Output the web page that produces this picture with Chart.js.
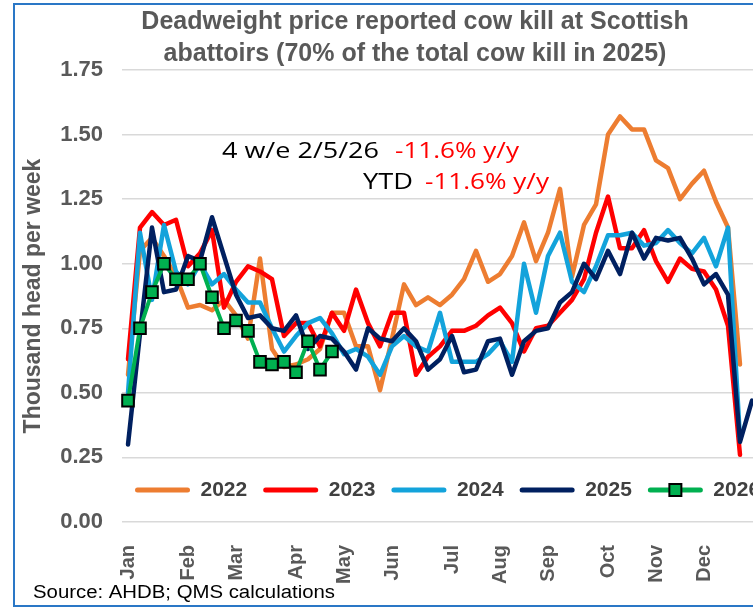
<!DOCTYPE html>
<html><head><meta charset="utf-8">
<script src="https://cdn.jsdelivr.net/npm/chart.js@4.4.1/dist/chart.umd.min.js"></script>
<style>
html,body{margin:0;padding:0;background:#fff;overflow:hidden;width:753px;height:609px;}
#wrap{position:absolute;left:0;top:0;width:830px;height:609px;}
#frame{position:absolute;left:13px;top:3px;width:900px;height:604px;border:2px solid #2a77c6;box-sizing:border-box;pointer-events:none;}
</style></head><body>
<div id="wrap"><canvas id="c" width="830" height="609"></canvas></div>
<div id="frame"></div>
<script>
// ---------- data ----------
const weeks = [1,2,3,4,5,6,7,8,9,10,11,12,13,14,15,16,17,18,19,20,21,22,23,24,25,26,27,28,29,30,31,32,33,34,35,36,37,38,39,40,41,42,43,44,45,46,47,48,49,50,51,52,53];
const monthNames = ['Jan','Feb','Mar','Apr','May','Jun','Jul','Aug','Sep','Oct','Nov','Dec'];
const monthStartWeeks = [1,6,10,15,19,23,28,32,36,41,45,49];
const seriesNames = ['2022','2023','2024','2025','2026'];
const kill2022 = [0.57,1.05,1.10,1.03,0.95,0.83,0.84,0.82,0.86,0.80,0.71,1.02,0.67,0.60,0.61,0.63,0.67,0.81,0.81,0.68,0.68,0.51,0.71,0.92,0.84,0.87,0.84,0.88,0.94,1.05,0.93,0.96,1.03,1.16,1.01,1.12,1.29,0.95,1.15,1.23,1.50,1.57,1.52,1.52,1.40,1.37,1.25,1.31,1.36,1.24,1.14,0.61];
const kill2023 = [0.63,1.14,1.20,1.15,1.17,0.99,1.04,1.13,0.83,0.93,0.99,0.97,0.94,0.72,0.77,0.77,0.68,0.81,0.74,0.90,0.77,0.68,0.81,0.81,0.57,0.64,0.68,0.74,0.74,0.76,0.80,0.83,0.77,0.66,0.75,0.76,0.81,0.86,0.94,1.12,1.26,1.06,1.06,1.13,1.01,0.93,1.02,0.98,0.97,0.90,0.76,0.26];
const kill2024 = [0.50,1.12,0.86,1.15,0.97,0.92,1.00,0.92,0.96,0.90,0.85,0.85,0.75,0.66,0.72,0.77,0.79,0.73,0.65,0.67,0.64,0.57,0.68,0.72,0.68,0.66,0.81,0.62,0.62,0.62,0.65,0.70,0.62,1.00,0.81,1.03,1.12,0.93,0.89,0.99,1.11,1.11,1.12,1.07,1.08,1.13,1.08,1.04,1.10,0.99,1.14,0.32];
const kill2025 = [0.30,0.73,1.14,0.89,0.90,1.03,1.01,1.18,1.03,0.88,0.79,0.80,0.75,0.74,0.80,0.67,0.72,0.71,0.66,0.59,0.75,0.71,0.70,0.75,0.70,0.59,0.63,0.72,0.58,0.59,0.70,0.71,0.57,0.70,0.74,0.75,0.85,0.89,1.00,0.94,1.05,0.96,1.12,1.02,1.10,1.09,1.10,1.02,0.92,0.96,0.88,0.31,0.47];
const kill2026 = [0.47,0.75,0.89,1.00,0.94,0.94,1.00,0.87,0.75,0.78,0.74,0.62,0.61,0.62,0.58,0.70,0.59,0.66];
const titleLines = ['Deadweight price reported cow kill at Scottish','abattoirs (70% of the total cow kill in 2025)'];
const yAxisTitle = 'Thousand head per week';
const annotationLines = [['4 w/e 2/5/26','-11.6% y/y'],['YTD','-11.6% y/y']];
const sourceNote = 'Source: AHDB; QMS calculations';

// ---------- helpers ----------
const weekLabels = weeks.map(w => { const i = monthStartWeeks.indexOf(w); return i >= 0 ? monthNames[i] : ''; });
const mctx = document.createElement('canvas').getContext('2d');
mctx.font = 'bold 100px "Liberation Sans"';
let titleSize = 565 / mctx.measureText(titleLines[0]).width * 100;
titleSize = Math.max(19, Math.min(25, titleSize));

const colors = ['#ED7D31','#FF0000','#13A3DB','#002060','#00B050'];
const values = [kill2022, kill2023, kill2024, kill2025, kill2026];
const datasets = seriesNames.map((name, i) => ({
  label: name,
  data: values[i],
  borderColor: colors[i],
  backgroundColor: colors[i],
  borderWidth: 4.5,
  tension: 0,
  borderJoinStyle: 'round',
  borderCapStyle: 'round',
  pointRadius: 0,
  order: 4 - i
}));
Object.assign(datasets[4], {
  borderWidth: 4,
  pointStyle: 'rect',
  pointRadius: 8.2,
  pointBackgroundColor: '#00B050',
  pointBorderColor: '#000000',
  pointBorderWidth: 2
});

const axisFont = '"Liberation Sans"';

function fitText(ctx, text, x, y, targetW) {
  const w = ctx.measureText(text).width;
  const s = targetW / w;
  ctx.save();
  ctx.translate(x, y);
  ctx.scale(s, 1);
  ctx.fillText(text, 0, 0);
  ctx.restore();
}

const placeLegend = {
  id: 'placeLegend',
  afterLayout(chart) {
    const lg = chart.legend;
    if (!lg) return;
    lg.left = 119; lg.right = 1000;
    lg.top = 463.5; lg.bottom = 520;
    lg.width = lg.right - lg.left; lg.height = lg.bottom - lg.top;
  },
  afterDraw(chart) {
    const ctx = chart.ctx;
    const lg = chart.legend;
    const hb = lg.legendHitBoxes[4];
    if (hb) {
      const cx = hb.left + 27.5, cy = hb.top + 10.5;
      ctx.save();
      ctx.fillStyle = '#00B050'; ctx.strokeStyle = '#000'; ctx.lineWidth = 2;
      ctx.fillRect(cx - 6, cy - 6, 12, 12); ctx.strokeRect(cx - 6, cy - 6, 12, 12);
      ctx.restore();
    }
    ctx.save();
    ctx.font = '21px "Open Sans"';
    ctx.textBaseline = 'alphabetic';
    ctx.textAlign = 'left';
    ctx.fillStyle = '#000'; fitText(ctx, annotationLines[0][0], 222, 158, 157);
    ctx.fillStyle = '#FF0000'; fitText(ctx, annotationLines[0][1], 395, 158, 124);
    ctx.fillStyle = '#000'; fitText(ctx, annotationLines[1][0], 363, 189, 50);
    ctx.fillStyle = '#FF0000'; fitText(ctx, annotationLines[1][1], 425, 189, 124);
    ctx.font = '18px "Liberation Sans"';
    ctx.fillStyle = '#000';
    fitText(ctx, sourceNote, 33, 598, 302);
    ctx.restore();
  }
};

new Chart(document.getElementById('c'), {
  type: 'line',
  data: { labels: weekLabels, datasets },
  plugins: [placeLegend],
  options: {
    responsive: false,
    animation: false,
    devicePixelRatio: 1,
    layout: { padding: 0 },
    plugins: {
      title: {
        display: true, text: titleLines, color: '#595959',
        font: { family: '"Liberation Sans"', size: titleSize, weight: 'bold', lineHeight: '32px' },
        padding: { top: 6, bottom: 0 }
      },
      legend: {
        display: true, position: 'bottom', align: 'start', maxHeight: 1,
        labels: {
          boxWidth: 55, boxHeight: 5, useBorderRadius: true, borderRadius: 2.5,
          padding: 16, color: '#404040',
          font: { family: axisFont, size: 21, weight: 'bold' },
          sort: (a, b) => a.datasetIndex - b.datasetIndex,
          generateLabels: chart => Chart.defaults.plugins.legend.labels.generateLabels(chart).map(it => Object.assign(it, {
            fillStyle: chart.data.datasets[it.datasetIndex].borderColor, lineWidth: 0
          }))
        }
      },
      tooltip: { enabled: false }
    },
    scales: {
      x: {
        type: 'category', offset: true,
        grid: { display: false }, border: { display: false },
        ticks: { autoSkip: false, maxRotation: 90, minRotation: 90, padding: 15, color: '#595959',
                 font: { family: axisFont, size: 20, weight: 'bold' } },
        afterFit: s => { s.height = 86; }
      },
      y: {
        min: 0, max: 1.75,
        border: { display: false },
        grid: { color: '#D9D9D9', lineWidth: 1.5, drawTicks: false },
        ticks: { stepSize: 0.25, padding: 19, color: '#595959',
                 font: { family: axisFont, size: 22, weight: 'bold' },
                 callback: v => Number(v).toFixed(2) },
        title: { display: true, text: yAxisTitle, color: '#595959',
                 font: { family: axisFont, size: 23, weight: 'bold' }, padding: { top: 20, bottom: 0 } },
        afterFit: s => { s.width = 122; }
      },
      rightSpace: {
        type: 'linear', position: 'right', display: true,
        grid: { display: false }, border: { display: false },
        ticks: { display: false },
        afterFit: s => { s.width = 72; }
      }
    }
  }
});
</script>
</body></html>
